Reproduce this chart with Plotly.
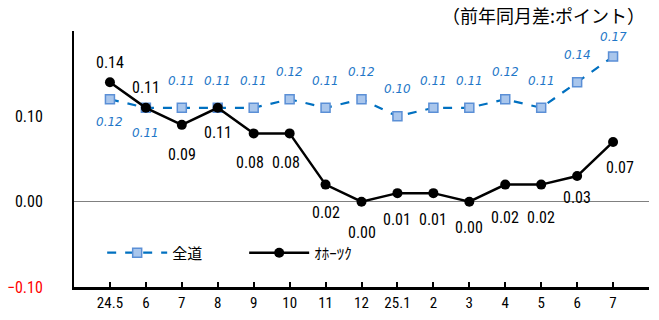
import plotly.graph_objects as go

categories = ["24.5", "6", "7", "8", "9", "10", "11", "12", "25.1", "2", "3", "4", "5", "6", "7"]
zendo = [0.12, 0.11, 0.11, 0.11, 0.11, 0.12, 0.11, 0.12, 0.10, 0.11, 0.11, 0.12, 0.11, 0.14, 0.17]
okhotsk = [0.14, 0.11, 0.09, 0.11, 0.08, 0.08, 0.02, 0.00, 0.01, 0.01, 0.00, 0.02, 0.02, 0.03, 0.07]
ytick_vals = [-0.10, 0.00, 0.10]
ytick_text = ["<span style='color:#FF0000'>−0.10</span>", "0.00", "0.10"]

x = list(range(len(categories)))

# label offsets (px) – styling only
blue_shift = [(0, -23), (0, -25)] + [(0, 27)] * 12 + [(0, 20)]
black_shift = [(0, 20), (0, 20), (0, -30), (0, -25), (-4, -29), (-4, -29), (0, -28), (0, -31),
               (0, -26), (0, -26), (0, -26), (0, -33), (0, -33), (0, -21), (7, -26)]

NUMFONT = "Liberation Sans Narrow, Arial Narrow, Roboto Condensed, Liberation Sans, Arial"

fig = go.Figure()
fig.add_trace(go.Scatter(
    x=x, y=zendo, name="全道", mode="lines+markers",
    line=dict(color="#0070C0", width=2.2, dash="dash"),
    marker=dict(symbol="square", size=9, color="#A9C6EC", line=dict(color="#5B8FD6", width=1.5)),
))
fig.add_trace(go.Scatter(
    x=x, y=okhotsk, name="ｵﾎｰﾂｸ", mode="lines+markers",
    line=dict(color="#000000", width=2.5),
    marker=dict(symbol="circle", size=10, color="#000000"),
))

annotations = []
for i, v in enumerate(zendo):
    dx, dy = blue_shift[i]
    annotations.append(dict(x=x[i], y=v, text=f"<i>{v:.2f}</i>", showarrow=False, xshift=dx, yshift=dy,
                            font=dict(family="DejaVu Sans, Liberation Sans, Arial", size=12, color="#1F77C8")))
for i, v in enumerate(okhotsk):
    dx, dy = black_shift[i]
    annotations.append(dict(x=x[i], y=v, text=f"{v:.2f}", showarrow=False, xshift=dx, yshift=dy,
                            font=dict(family=NUMFONT, size=16, color="#000000")))
annotations.append(dict(xref="paper", yref="paper", x=1.0, y=1.0, xanchor="right", yanchor="middle",
                        xshift=-2, yshift=16, text="（前年同月差:ポイント）", showarrow=False,
                        font=dict(family="Noto Sans CJK JP", size=18, color="#000000")))

fig.update_layout(
    width=659, height=320,
    margin=dict(l=74, r=10, t=31, b=33),
    paper_bgcolor="white", plot_bgcolor="white",
    showlegend=True,
    legend=dict(orientation="h", x=0.049, y=0.133, xanchor="left", yanchor="middle",
                font=dict(family="Noto Sans CJK JP", size=15, color="#000000"),
                bgcolor="rgba(0,0,0,0)", itemwidth=60, entrywidth=67, entrywidthmode="pixels"),
    annotations=annotations,
    xaxis=dict(range=[-1, len(categories)], tickmode="array", tickvals=x, ticktext=categories,
               showgrid=False, zeroline=False, showline=True, linecolor="#000000", linewidth=2.5,
               ticks="inside", ticklen=5, tickcolor="#000000", tickwidth=1.5,
               tickfont=dict(family=NUMFONT, size=15, color="#000000"), fixedrange=True,
               automargin=False),
    yaxis=dict(range=[-0.1, 0.2], tickmode="array", tickvals=ytick_vals, ticktext=ytick_text,
               showgrid=False, zeroline=True, zerolinecolor="#808080", zerolinewidth=1,
               showline=True, linecolor="#000000", linewidth=2, ticks="",
               ticklabelstandoff=26, automargin=False,
               tickfont=dict(family=NUMFONT, size=16, color="#000000"), fixedrange=True),
)

fig.write_html("out.html", config={"displayModeBar": False},
               post_script="document.body.style.margin='0';")
